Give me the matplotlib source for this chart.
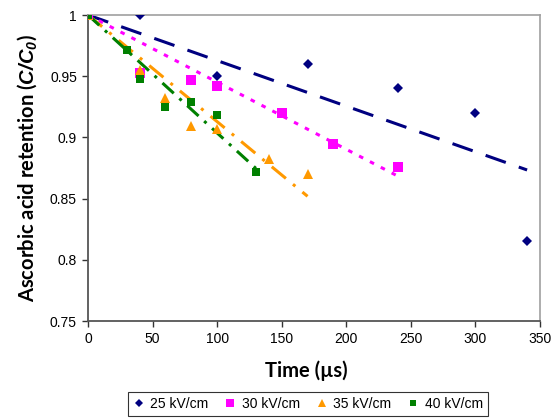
import numpy as np
import matplotlib

matplotlib.use("Agg")
import matplotlib.pyplot as plt

plt.rcParams["font.family"] = ["Liberation Sans", "DejaVu Sans"]
plt.rcParams["mathtext.fontset"] = "custom"
plt.rcParams["mathtext.bfit"] = "Liberation Sans:italic:bold"
plt.rcParams["mathtext.bf"] = "Lato:bold"
plt.rcParams["mathtext.rm"] = "Lato"

# treatment time (us) and ascorbic acid retention C/C0 for each field strength
t_25 = [0, 40, 100, 170, 240, 300, 340]
r_25 = [1.0, 1.0, 0.95, 0.96, 0.94, 0.92, 0.815]
t_30 = [0, 40, 80, 100, 150, 190, 240]
r_30 = [1.0, 0.953, 0.947, 0.942, 0.92, 0.895, 0.876]
t_35 = [0, 40, 60, 80, 100, 140, 170]
r_35 = [1.0, 0.955, 0.932, 0.909, 0.907, 0.882, 0.87]
t_40 = [0, 30, 40, 60, 80, 100, 130]
r_40 = [1.0, 0.971, 0.948, 0.925, 0.929, 0.918, 0.872]

series = [
    ("25 kV/cm", t_25, r_25, "#000080", "D", 5.5, (0, (7, 4.5))),
    ("30 kV/cm", t_30, r_30, "#ff00ff", "s", 6.5, (0, (1.5, 2.5))),
    ("35 kV/cm", t_35, r_35, "#ff9900", "^", 7, (0, (6, 3, 1, 3))),
    ("40 kV/cm", t_40, r_40, "#008000", "s", 6, (0, (5, 2.5, 1, 2.5))),
]


def trend_through_one(t, r):
    # least-squares line forced through (0, 1)
    t = np.asarray(t, float)
    r = np.asarray(r, float)
    slope = np.sum(t * (r - 1.0)) / np.sum(t * t)
    return slope


fig = plt.figure(figsize=(5.54, 4.19), dpi=100)
ax = fig.add_axes([88 / 554, 1 - 321 / 419, 452 / 554, 306 / 419])

for label, t, r, color, marker, size, dash in series:
    ax.plot(t, r, linestyle="none", marker=marker, color=color,
            markersize=size, markeredgewidth=0, label=label, zorder=3)
    slope = trend_through_one(t, r)
    xs = np.array([0, max(t)])
    ax.plot(xs, 1 + slope * xs, color=color, linewidth=2.2,
            linestyle=dash, zorder=2)

ax.set_xlim(0, 350)
ax.set_ylim(0.75, 1.0)
ax.set_xticks(np.arange(0, 351, 50))
ax.set_yticks([0.75, 0.8, 0.85, 0.9, 0.95, 1.0])
ax.set_yticklabels(["0.75", "0.8", "0.85", "0.9", "0.95", "1"])

for side in ("left", "bottom"):
    ax.spines[side].set_color("#555555")
    ax.spines[side].set_linewidth(1.3)
for side in ("top", "right"):
    ax.spines[side].set_color("#a0a0a0")
    ax.spines[side].set_linewidth(1.2)

ax.tick_params(axis="both", direction="out", length=4, width=1,
               color="#333333", labelsize=10, pad=4)

ax.set_xlabel("Time (µs)", fontsize=14.5, fontweight="bold", family="Lato",
              labelpad=5)
ax.xaxis.set_label_coords(0.482, -0.13)
ax.set_ylabel(r"Ascorbic acid retention ($\mathbfit{C/C_0}$)",
              fontsize=14.5, fontweight="bold", family="Lato", labelpad=8)

leg = fig.legend(loc="center", bbox_to_anchor=(308 / 554, 1 - 404 / 419),
                 ncol=4, frameon=True, fancybox=False, fontsize=10,
                 handlelength=0.8, handletextpad=0.4, columnspacing=1.2,
                 borderpad=0.35, markerscale=0.8)
leg.get_frame().set_edgecolor("#000000")
leg.get_frame().set_linewidth(0.8)

fig.savefig("out.png", dpi=100)
